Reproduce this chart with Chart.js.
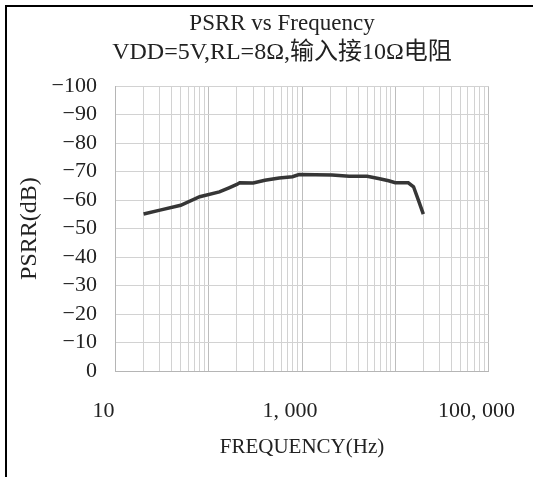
<!DOCTYPE html>
<html>
<head>
<meta charset="utf-8">
<script src="https://cdn.jsdelivr.net/npm/chart.js@4"></script>
<style>
  html, body { margin: 0; padding: 0; background: #fff; overflow: hidden; width: 533px; height: 477px; }
  #c { position: absolute; left: 0; top: 0; }
  #frame { position: absolute; left: 5px; top: 5px; width: 700px; height: 700px;
           border-left: 2px solid #000; border-top: 2px solid #000; pointer-events: none; }
</style>
</head>
<body>
<canvas id="c" width="554" height="477"></canvas>
<div id="frame"></div>
<script>
// ---- data ----
const titleLine1 = 'PSRR vs Frequency';
const titleLine2 = 'VDD=5V,RL=8Ω,输入接10Ω电阻';
const xAxisTitle = 'FREQUENCY(Hz)';
const yAxisTitle = 'PSRR(dB)';

const freqHz = [20, 30, 50, 80, 130, 165, 200, 215, 300, 400, 570, 790, 930,
                2100, 3200, 5000, 6600, 8500, 10000, 13800, 15700, 17700, 20000];
const psrrDb = [-55.1, -56.5, -58.2, -61.2, -62.9, -64.3, -65.5, -66.1, -66.0, -67.0, -67.8, -68.2, -69.0,
                -68.8, -68.4, -68.4, -67.6, -66.8, -66.1, -66.1, -64.7, -60.0, -55.1];

const yTickValues = [0, -10, -20, -30, -40, -50, -60, -70, -80, -90, -100];
const xGridValues = [10, 20, 30, 40, 50, 60, 70, 80, 90,
                     100, 200, 300, 400, 500, 600, 700, 800, 900,
                     1000, 2000, 3000, 4000, 5000, 6000, 7000, 8000, 9000,
                     10000, 20000, 30000, 40000, 50000, 60000, 70000, 80000, 90000, 100000];
const xLabelValues = [10, 1000, 100000];
const xLabelTexts = ['10', '1, 000', '100, 000'];

const SERIF = "'Liberation Serif', 'Noto Sans CJK SC', serif";

new Chart(document.getElementById('c'), {
  type: 'line',
  data: {
    datasets: [{
      data: freqHz.map((f, i) => ({ x: f, y: psrrDb[i] })),
      borderColor: '#363636',
      borderWidth: 3.5,
      pointRadius: 0,
      tension: 0,
      fill: false
    }]
  },
  options: {
    responsive: false,
    animation: false,
    layout: { padding: { left: 10, right: 0, top: 0, bottom: 0 } },
    plugins: {
      legend: { display: false },
      tooltip: { enabled: false },
      title: {
        display: true,
        text: titleLine1,
        color: '#222',
        font: { family: SERIF, size: 23, weight: 'normal', lineHeight: 1.2 },
        padding: { top: 10, bottom: 0 }
      },
      subtitle: {
        display: true,
        text: titleLine2,
        color: '#222',
        font: { family: SERIF, size: 24, weight: 'normal', lineHeight: 1.15 },
        padding: { top: 1, bottom: 20 }
      }
    },
    scales: {
      x: {
        type: 'logarithmic',
        position: 'bottom',
        min: 10,
        max: 100000,
        afterBuildTicks: (s) => { s.ticks = xGridValues.map(v => ({ value: v })); },
        afterFit: (s) => { s.height = 106; },
        grid: {
          color: (ctx) => {
            const v = ctx.tick ? ctx.tick.value : 0;
            return Math.abs(Math.log10(v) - Math.round(Math.log10(v))) < 1e-9 ? '#bdbdbd' : '#d2d2d2';
          },
          lineWidth: 1,
          drawTicks: false
        },
        border: { display: true, color: '#b5b5b5', width: 1 },
        ticks: {
          autoSkip: false,
          maxRotation: 0,
          minRotation: 0,
          padding: 27,
          labelOffset: -12,
          color: '#222',
          font: { family: SERIF, size: 22 },
          callback: (value) => {
            const i = xLabelValues.indexOf(value);
            return i >= 0 ? xLabelTexts[i] : '';
          }
        },
        title: {
          display: true,
          text: xAxisTitle,
          color: '#222',
          font: { family: SERIF, size: 21 },
          padding: { top: 0, bottom: 17 }
        }
      },
      y: {
        type: 'linear',
        position: 'left',
        min: -100,
        max: 0,
        reverse: true,
        afterBuildTicks: (s) => { s.ticks = yTickValues.map(v => ({ value: v })); },
        afterFit: (s) => { s.width = 105.5; },
        grid: { color: '#d2d2d2', lineWidth: 1, drawTicks: false },
        border: { display: true, color: '#b5b5b5', width: 1 },
        ticks: {
          autoSkip: false,
          padding: 18.5,
          color: '#222',
          font: { family: SERIF, size: 22 },
          callback: (v) => (v < 0 ? '\u2212' + Math.abs(v) : String(v))
        },
        title: {
          display: true,
          text: yAxisTitle,
          color: '#222',
          font: { family: SERIF, size: 24 },
          padding: { top: 5.6, bottom: 0 }
        }
      },
      y2: {
        type: 'linear',
        position: 'right',
        display: true,
        afterFit: (s) => { s.width = 61; },
        grid: { display: false, drawTicks: false },
        border: { display: false },
        ticks: { display: false }
      }
    }
  }
});
</script>
</body>
</html>
